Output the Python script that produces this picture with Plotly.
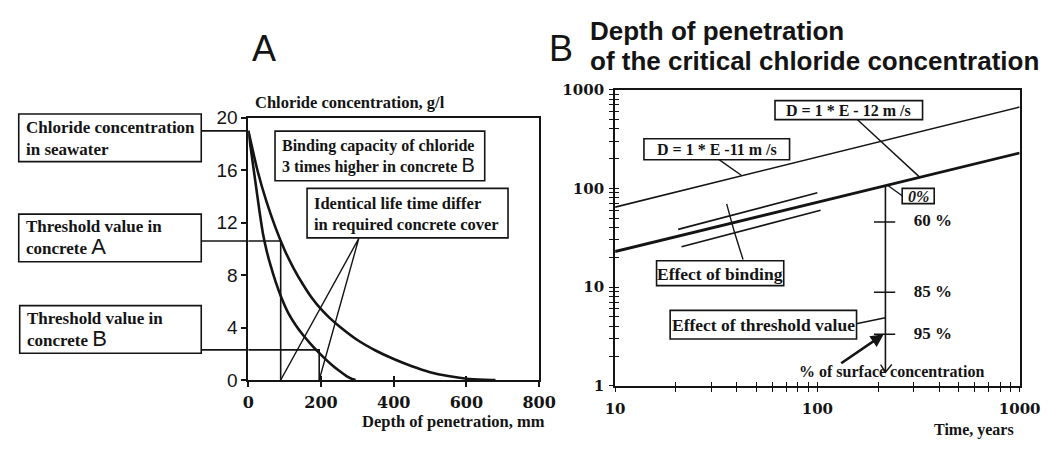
import plotly.graph_objects as go

W, H = 1062, 453

# ---------------- Panel A : chloride profiles ----------------
depth_A_outer = [0, 25, 50, 75, 100, 125, 150, 175, 200, 225, 250, 300, 350, 400, 450, 500, 550, 600, 650, 680]
conc_A_outer = [19, 16.0, 13.6, 11.6, 9.9, 8.5, 7.3, 6.25, 5.4, 4.7, 4.1, 3.05, 2.25, 1.6, 1.05, 0.6, 0.3, 0.1, 0.02, 0]
depth_A_inner = [0, 10, 20, 30, 40, 50, 60, 75, 90, 110, 130, 150, 170, 190, 210, 230, 250, 270, 285, 295]
conc_A_inner = [19, 17.0, 15.0, 13.0, 11.2, 9.9, 8.85, 7.5, 6.35, 5.1, 4.2, 3.45, 2.8, 2.2, 1.65, 1.15, 0.7, 0.3, 0.08, 0]
seawater_conc = 19.0
threshold_A = 10.6
threshold_B = 2.3
cover_A = 89
cover_B = 195
A_xticks = [0, 200, 400, 600, 800]
A_yticks = [0, 4, 8, 12, 16, 20]

# ---------------- Panel B : depth of penetration ----------------
time_span = [10, 1000]
depth_D11 = [64.5, 666]
depth_D12 = [22.9, 228]
bind_hi_time = [20.5, 100]
bind_hi_depth = [38.4, 90.1]
bind_lo_time = [21.3, 103.7]
bind_lo_depth = [25.6, 60.0]
bind_cross_time = [35.6, 38.8, 42.9]
bind_cross_depth = [69.6, 36.7, 19.0]
crit_time = 217
crit_top_depth = 106.7
crit_bottom_depth = 1.37
pct_labels = ["60 %", "85 %", "95 %"]
pct_depth = [45.6, 8.85, 3.32]
pct_tick_time = [190.5, 242.6]
chevron_time = [205.4, 217, 233.4]
chevron_depth = [1.64, 1.37, 1.64]
B_decades_x = [10, 100, 1000]
B_decades_y = [1, 10, 100, 1000]
minor_mult = [2, 3, 4, 5, 6, 7, 8, 9]

SERIF = "Liberation Serif"
NUM = "DejaVu Serif"
SANS = "Liberation Sans"
NARROW = "Liberation Sans Narrow, Liberation Sans"
INK = "#141414"


def fx(p):
    return p / W


def fy(p):
    return 1 - p / H


fig = go.Figure()


def line(x, y, xa, ya, width=1.5, shape="linear"):
    fig.add_trace(go.Scatter(x=x, y=y, mode="lines", xaxis=xa, yaxis=ya,
                             line=dict(color=INK, width=width, shape=shape, smoothing=0.5),
                             showlegend=False, hoverinfo="skip", cliponaxis=False))


# ---- Panel A traces ----
line(depth_A_outer, conc_A_outer, "x", "y", 2.6, "spline")
line(depth_A_inner, conc_A_inner, "x", "y", 2.6, "spline")
line([0, cover_A, cover_A], [threshold_A, threshold_A, 0], "x", "y", 1.6)
line([0, cover_B, cover_B], [threshold_B, threshold_B, 0], "x", "y", 1.6)
line([cover_A, 304, cover_B], [0, 10.8, 0], "x", "y", 1.4)

# ---- Panel B traces ----
line(time_span, depth_D11, "x2", "y2", 1.6)
line(time_span, depth_D12, "x2", "y2", 2.8)
line(bind_hi_time, bind_hi_depth, "x2", "y2", 1.6)
line(bind_lo_time, bind_lo_depth, "x2", "y2", 1.6)
line(bind_cross_time, bind_cross_depth, "x2", "y2", 1.4, "spline")
line([crit_time, crit_time], [crit_top_depth, crit_bottom_depth], "x2", "y2", 1.6)
tx, ty = [], []
for d in pct_depth:
    tx += pct_tick_time + [None]
    ty += [d, d, None]
line(tx, ty, "x2", "y2", 1.6)
line(chevron_time, chevron_depth, "x2", "y2", 1.4)
fig.add_trace(go.Scatter(x=[300] * len(pct_depth), y=pct_depth, mode="text", text=pct_labels,
                         textposition="middle right", xaxis="x2", yaxis="y2",
                         textfont=dict(family=SERIF, size=17, color=INK, weight="bold"),
                         showlegend=False, hoverinfo="skip", cliponaxis=False))

# empty traces that carry the overlay axes used for the tick marks inside the frame
fig.add_trace(go.Scatter(x=[None], y=[None], xaxis="x3", yaxis="y3", showlegend=False))
fig.add_trace(go.Scatter(x=[None], y=[None], xaxis="x4", yaxis="y4", showlegend=False))

domA_x = [fx(245.5), fx(545)]
domA_y = [fy(388), fy(113)]
domB_x = [fx(623.3), fx(1040)]
domB_y = [fy(394), fy(83.5)]

B_xt, B_xl = [], []
for d in B_decades_x:
    B_xt.append(d)
    B_xl.append(str(d))
    if d < 1000:
        for m in minor_mult:
            B_xt.append(d * m)
            B_xl.append("")
B_yt, B_yl = [], []
for d in B_decades_y:
    B_yt.append(d)
    B_yl.append(str(d))
    if d < 1000:
        for m in minor_mult:
            B_yt.append(d * m)
            B_yl.append("")

numfont = dict(family=NUM, size=15, color=INK, weight="bold")
common = dict(showgrid=False, zeroline=False, linecolor=INK, tickcolor=INK)

fig.update_layout(
    width=W, height=H, margin=dict(l=0, r=0, t=0, b=0),
    paper_bgcolor="white", plot_bgcolor="white", showlegend=False,
    xaxis=dict(domain=domA_x, range=[0, 800], tickvals=A_xticks, ticks="outside", ticklen=5,
               tickwidth=1.8, linewidth=2, showline=True, mirror=True, anchor="y",
               tickfont=dict(family=NUM, size=16, color=INK, weight="bold"),
               ticklabelstandoff=2, **common),
    yaxis=dict(domain=domA_y, range=[0, 20], tickvals=A_yticks, ticks="outside", ticklen=5,
               tickwidth=1.8, linewidth=2, showline=True, mirror=True, anchor="x",
               tickfont=dict(family=SANS, size=19, color=INK), **common),
    xaxis3=dict(overlaying="x", range=[0, 800], tickvals=A_xticks, ticks="inside", ticklen=4,
                tickwidth=1.8, showticklabels=False, showline=False, anchor="y3", **common),
    yaxis3=dict(overlaying="y", range=[0, 20], showticklabels=False, showline=False,
                ticks="", anchor="x3", **common),
    xaxis2=dict(domain=domB_x, type="log", range=[1, 3], tickvals=B_xt, ticktext=B_xl,
                ticks="outside", ticklen=4, tickwidth=1.4, linewidth=2, showline=True, mirror=True,
                anchor="y2", tickfont=numfont, ticklabelstandoff=4, **common),
    yaxis2=dict(domain=domB_y, type="log", range=[0, 3], tickvals=B_yt, ticktext=B_yl,
                ticks="outside", ticklen=4, tickwidth=1.4, linewidth=2, showline=True, mirror=True,
                anchor="x2", tickfont=numfont, ticklabelstandoff=2, **common),
    xaxis4=dict(overlaying="x2", type="log", range=[1, 3], tickvals=B_xt, ticks="inside", ticklen=4,
                tickwidth=1.4, showticklabels=False, showline=False, anchor="y4", **common),
    yaxis4=dict(overlaying="y2", type="log", range=[0, 3], tickvals=B_yt, ticks="inside", ticklen=4,
                tickwidth=1.4, showticklabels=False, showline=False, anchor="x4", **common),
)

annotations = []
shapes = []


def label(text, x, y, size, family=SERIF, xanchor="left", bold=True, align="left"):
    annotations.append(dict(text=text, xref="paper", yref="paper", x=fx(x), y=fy(y),
                            xanchor=xanchor, yanchor="middle", showarrow=False, align=align,
                            borderpad=0,
                            font=dict(family=family, size=size, color=INK,
                                      weight="bold" if bold else "normal")))


def box(text, x0, y0, x1, y1, size=17, centered=False):
    shapes.append(dict(type="rect", xref="paper", yref="paper", x0=fx(x0), y0=fy(y0),
                       x1=fx(x1), y1=fy(y1), fillcolor="white", layer="above",
                       line=dict(color=INK, width=1.6)))
    if centered:
        label(text, (x0 + x1) / 2, (y0 + y1) / 2 + 0.5, size, xanchor="center", align="center")
    else:
        label(text, x0 + 6, (y0 + y1) / 2 + 0.5, size)


def seg(x0, y0, x1, y1, width=1.4):
    shapes.append(dict(type="line", xref="paper", yref="paper", x0=fx(x0), y0=fy(y0),
                       x1=fx(x1), y1=fy(y1), line=dict(color=INK, width=width)))


def big(letter, size=22):
    return ("<span style='font-family:Liberation Sans;font-weight:normal;font-size:%dpx'>%s</span>"
            % (size, letter))


box("Chloride concentration<br>in seawater", 9, 109, 197, 159)
box("Threshold value in<br>concrete " + big("A"), 9, 214, 197, 264)
box("Threshold value in<br>concrete " + big("B"), 10, 310, 197, 360)
box("Binding capacity of chloride<br>3 times higher in concrete " + big("B", 20), 273, 127, 489, 179, size=16)
box("Identical life time differ<br>in required concrete cover", 306, 187, 513, 239, size=16.5)
for v in [seawater_conc, threshold_A, threshold_B]:
    shapes.append(dict(type="line", xref="paper", yref="y", x0=fx(197), x1=fx(245.5), y0=v, y1=v,
                       line=dict(color=INK, width=1.6)))
label("Chloride concentration, g/l", 251, 97, 16.5)
label("Depth of penetration, mm", 552, 432, 16.5, xanchor="right")
label("A", 262, 40, 36, family=NARROW, xanchor="center", bold=False)

label("B", 568, 40, 36, family=NARROW, xanchor="center", bold=False)
label("Depth of penetration", 596, 22, 26, family=SANS, bold=True)
label("of the critical chloride concentration", 596, 53, 26, family=SANS, bold=True)
seg(873, 115, 936.7, 175)
seg(730, 156.7, 753.3, 173.3)
seg(871.7, 329, 901.7, 322.7)
seg(903.3, 183.3, 919.3, 195)
box("D = 1 * E - 12 m /s", 788, 95, 940, 115, size=16, centered=True)
box("D = 1 * E -11 m /s", 653, 135, 803, 157, size=16, centered=True)
box("Effect of binding", 666, 263, 797, 289, size=17.5, centered=True)
box("Effect of threshold value", 680, 315, 872, 345, size=17.5, centered=True)
box("<i>0%</i>", 919, 187, 952, 203, size=16, centered=True)
label("% of surface concentration", 908, 379, 16, xanchor="center")
label("Time, years", 1035, 440, 16, xanchor="right")
annotations.append(dict(text="", xref="paper", yref="paper", x=fx(900), y=fy(340),
                        ax=-44, ay=30, showarrow=True, arrowhead=2, arrowsize=1,
                        arrowwidth=2.6, arrowcolor=INK))

fig.update_layout(annotations=annotations, shapes=shapes)
fig.write_html("out.html")
